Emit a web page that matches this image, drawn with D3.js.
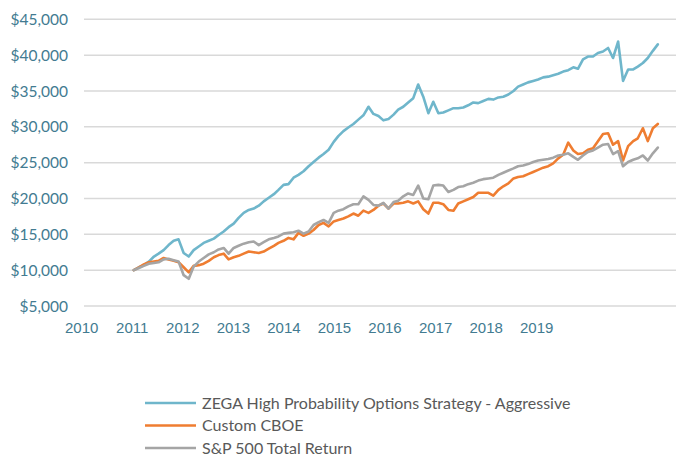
<!DOCTYPE html>
<html>
<head>
<meta charset="utf-8">
<script src="https://cdn.jsdelivr.net/npm/d3@7/dist/d3.min.js"></script>
<style>
  body { margin: 0; background: #fff; }
  svg { display: block; }
</style>
</head>
<body>
<div class="chart"></div>
<script>
// monthly growth of $10,000, Oct 2010 .. Jul 2019 (values in $ thousands)
const startMonth = new Date(2010, 9, 1);
const endMonth = new Date(2019, 6, 1);

const zega = [10.0,10.4,10.7,11.2,11.9,12.3,12.8,13.5,14.1,14.3,
  12.4,11.9,12.8,13.3,13.8,14.1,14.4,14.9,15.4,16.0,
  16.5,17.3,18.0,18.4,18.6,19.0,19.6,20.1,20.6,21.2,
  21.9,22.0,22.9,23.3,23.8,24.5,25.1,25.7,26.2,26.8,
  27.9,28.7,29.4,29.9,30.4,31.0,31.6,32.8,31.8,31.5,
  30.9,31.1,31.7,32.4,32.8,33.4,34.0,35.9,34.2,31.9,
  33.5,31.9,32.0,32.3,32.6,32.6,32.7,33.0,33.4,33.3,
  33.6,33.9,33.8,34.1,34.2,34.5,35.0,35.6,35.9,36.2,
  36.4,36.6,36.9,37.0,37.2,37.4,37.7,37.9,38.3,38.1,
  39.4,39.8,39.8,40.3,40.5,41.0,39.6,41.9,36.4,38.0,
  38.0,38.4,38.9,39.6,40.6,41.5];

const cboe = [10.0,10.4,10.8,11.1,11.2,11.3,11.7,11.5,11.3,11.1,
  10.4,9.7,10.6,10.7,10.9,11.3,11.8,12.1,12.3,11.5,
  11.8,12.0,12.3,12.6,12.5,12.4,12.6,13.0,13.4,13.8,
  14.1,14.5,14.3,15.2,14.8,15.1,15.6,16.3,16.6,16.1,
  16.8,17.0,17.2,17.5,17.9,17.6,18.3,18.0,18.4,19.0,
  19.3,18.6,19.3,19.3,19.4,19.6,19.3,19.6,18.5,17.9,
  19.4,19.4,19.2,18.4,18.3,19.3,19.6,19.9,20.2,20.8,
  20.8,20.8,20.4,21.2,21.7,22.1,22.8,23.0,23.1,23.4,
  23.7,24.0,24.3,24.5,24.9,25.6,26.1,27.8,26.7,26.2,
  26.3,26.8,27.0,28.0,29.0,29.1,27.5,28.0,25.3,27.3,
  28.0,28.4,29.8,28.0,29.8,30.4];

const sp500 = [10.0,10.3,10.6,10.9,11.0,11.1,11.5,11.6,11.4,11.2,
  9.3,8.8,10.5,11.2,11.7,12.2,12.5,12.9,13.1,12.3,
  13.1,13.4,13.7,13.9,14.0,13.5,13.9,14.3,14.5,14.7,
  15.1,15.2,15.3,15.5,15.1,15.4,16.3,16.7,17.0,16.6,
  18.0,18.3,18.5,18.9,19.2,19.2,20.3,19.8,19.1,19.0,
  19.4,18.6,19.5,19.7,20.3,20.7,20.5,21.8,20.0,19.9,
  21.8,21.9,21.8,20.9,21.2,21.6,21.7,22.0,22.2,22.5,
  22.7,22.8,22.9,23.3,23.6,23.9,24.2,24.5,24.6,24.8,
  25.1,25.3,25.4,25.5,25.7,26.0,26.1,26.3,25.8,25.4,
  26.0,26.5,26.7,27.1,27.5,27.6,26.2,26.6,24.5,25.1,
  25.4,25.6,26.0,25.3,26.3,27.1];

const yearLabels = ["2010","2011","2012","2013","2014","2015","2016","2017","2018","2019"];
const yTicks = [5000,10000,15000,20000,25000,30000,35000,40000,45000];

const seriesNames = ["ZEGA High Probability Options Strategy - Aggressive", "Custom CBOE", "S&P 500 Total Return"];
const seriesColors = ["#6fb6cb", "#ef7d31", "#a5a5a5"];

const width = 677, height = 457;
const months = d3.timeMonth.range(startMonth, d3.timeMonth.offset(endMonth, 1));
const seriesData = [zega, cboe, sp500].map(vals => vals.map((v, i) => ({date: months[i], value: v * 1000})));

const svg = d3.select(".chart").append("svg")
    .attr("width", width)
    .attr("height", height);

svg.append("rect").attr("width", width).attr("height", height).attr("fill", "#fff");

const y = d3.scaleLinear().domain([5000, 45000]).range([306, 19.3]);
const x = d3.scaleTime().domain([startMonth, endMonth]).range([133.8, 657.8]);
const xLabel = d3.scalePoint().domain(yearLabels).range([81.7, 536.7]);

// gridlines
svg.append("g")
    .selectAll("line")
    .data(yTicks)
    .join("line")
    .attr("x1", 84).attr("x2", 676)
    .attr("y1", d => y(d)).attr("y2", d => y(d))
    .attr("stroke", "#d9d9d9")
    .attr("stroke-width", 1.5);

// y axis labels
const fmt = d3.format("$,");
svg.append("g")
    .selectAll("text")
    .data(yTicks)
    .join("text")
    .attr("x", 68)
    .attr("y", d => y(d))
    .attr("dy", "0.36em")
    .attr("text-anchor", "end")
    .attr("font-family", "Lato, 'Open Sans', sans-serif")
    .attr("font-size", 15.5)
    .attr("fill", "#427b91")
    .text(d => fmt(d));

// x axis labels
svg.append("g")
    .selectAll("text")
    .data(yearLabels)
    .join("text")
    .attr("x", d => xLabel(d))
    .attr("y", 333)
    .attr("text-anchor", "middle")
    .attr("font-family", "'Liberation Sans', Arial, sans-serif")
    .attr("font-size", 15)
    .attr("fill", "#427b91")
    .text(d => d);

// lines
const line = d3.line()
    .x(d => x(d.date))
    .y(d => y(d.value));

svg.append("g")
    .selectAll("path")
    .data(seriesData)
    .join("path")
    .attr("d", line)
    .attr("fill", "none")
    .attr("stroke", (d, i) => seriesColors[i])
    .attr("stroke-width", 2.6)
    .attr("stroke-linejoin", "round")
    .attr("stroke-linecap", "round");

// legend
const legend = svg.append("g")
    .selectAll("g")
    .data(seriesNames)
    .join("g")
    .attr("transform", (d, i) => `translate(145, ${403 + i * 22.5})`);

legend.append("line")
    .attr("x1", 0).attr("x2", 51)
    .attr("stroke", (d, i) => seriesColors[i])
    .attr("stroke-width", 2.6);

legend.append("text")
    .attr("x", 57)
    .attr("dy", "0.36em")
    .attr("font-family", "Lato, 'Open Sans', sans-serif")
    .attr("font-size", 16)
    .attr("fill", "#595959")
    .text(d => d);
</script>
</body>
</html>
